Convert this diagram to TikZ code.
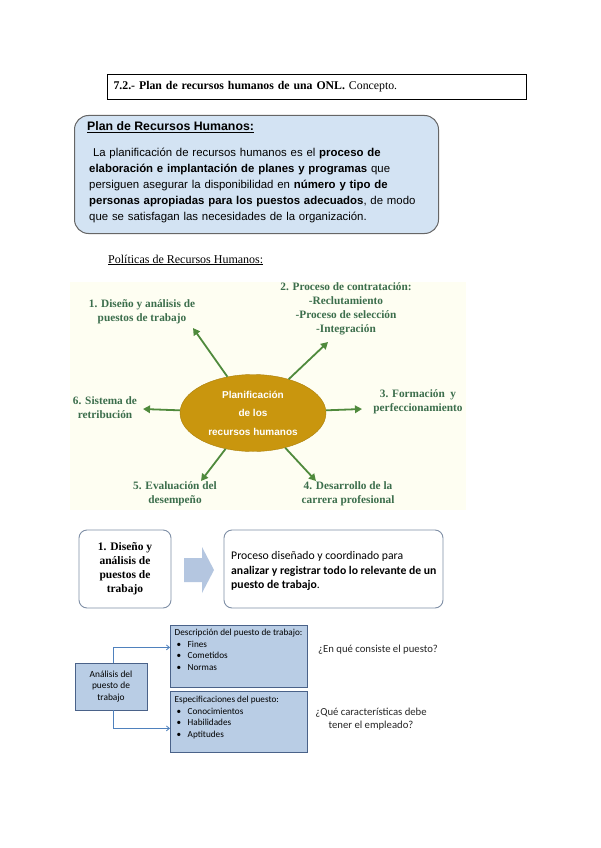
\documentclass[tikz,border=0pt]{standalone}
\usepackage{fontspec}
\setmainfont{Liberation Serif}
\setsansfont{Liberation Sans}
\newfontfamily\calibri{Carlito}
\usetikzlibrary{shapes.geometric,arrows.meta,positioning}

\definecolor{boxblue}{HTML}{D3E3F3}
\definecolor{goldfill}{HTML}{C9960E}
\definecolor{arrowgreen}{HTML}{4F8A3C}
\definecolor{labelgreen}{HTML}{3C6E4C}
\definecolor{creambg}{HTML}{FEFEF2}
\definecolor{chevronblue}{HTML}{B4C6E0}
\definecolor{cellblue}{HTML}{B9CDE5}
\definecolor{celledge}{HTML}{4A6289}
\definecolor{linkblue}{HTML}{4F81BD}
\definecolor{roundedge}{HTML}{7F8FA6}

\begin{document}
\begin{tikzpicture}[x=1pt, y=-1pt,
  policy/.style={text=labelgreen, font=\fontsize{11.3}{14}\selectfont\bfseries, align=center},
  spoke/.style={arrowgreen, line width=1.8pt, -{Triangle[length=7pt,width=7.5pt]}},
  roundbox/.style={draw=roundedge, line width=0.9pt, rounded corners=8pt, inner sep=0pt},
  cell/.style={draw=celledge, fill=cellblue, line width=0.8pt, inner sep=0pt},
  celltext/.style={font=\calibri\fontsize{9.2}{11.5}\selectfont, align=left, anchor=north west, inner sep=0pt},
  link/.style={linkblue, line width=0.8pt, -{Straight Barb[length=3pt,width=5pt]}}]
\useasboundingbox (0,0) rectangle (600,848);
\fill[white] (0,0) rectangle (600,848);

% title
\node[draw, line width=1pt, anchor=north west, minimum width=419pt, minimum height=25pt,
  text width=407pt, inner xsep=6pt, align=left, font=\fontsize{11.8}{13}\selectfont]
  (title) at (107,74) {\textbf{7.2.- Plan de recursos humanos de una ONL.} Concepto.};

% concepto
\node[draw=black!60, line width=1pt, fill=boxblue, rounded corners=14pt, anchor=north west,
  minimum width=364pt, minimum height=118pt] (concept) at (74,115) {};
\node[anchor=base west, inner sep=0pt, font=\sffamily\bfseries\fontsize{12.3}{14}\selectfont]
  (concepthead) at (87,131) {\underline{Plan de Recursos Humanos:}};
\node[anchor=north west, inner sep=0pt, text width=345pt, align=left,
  font=\sffamily\fontsize{11.4}{16}\selectfont] (conceptbody) at (89,148)
  {\ La planificación de recursos humanos es el \textbf{proceso de}\\
   \textbf{elaboración e implantación de planes y programas} que\\
   persiguen asegurar la disponibilidad en \textbf{número y tipo de}\\
   \textbf{personas apropiadas para los puestos adecuados}, de modo\\
   que se satisfagan las necesidades de la organización.};

% politicas
\node[anchor=base west, inner sep=0pt, font=\fontsize{12}{14}\selectfont]
  (polhead) at (108,263) {\underline{Políticas de Recursos Humanos:}};
\fill[creambg] (70,282) rectangle (466,510);

\node[ellipse, fill=goldfill, draw=goldfill!85!black, minimum width=146pt, minimum height=77pt,
  inner sep=0pt, text=white, align=center, font=\sffamily\bfseries\fontsize{10}{18.5}\selectfont]
  (plan) at (253,413) {Planificación\\de los\\recursos humanos};

\coordinate (a1) at (193,328);
\coordinate (a2) at (328,342);
\coordinate (a3) at (362,409);
\coordinate (a4) at (316,481);
\coordinate (a5) at (201,481);
\coordinate (a6) at (143,409);
\foreach \i in {1,...,6} \draw[spoke] (plan) -- (a\i);

\node[policy] (pol1) at (142,312) {1. Diseño y análisis de\\puestos de trabajo};
\node[policy] (pol2) at (346,309) {2. Proceso de contratación:\\-Reclutamiento\\-Proceso de selección\\-Integración};
\node[policy] (pol3) at (418,402) {3. Formación\ \ y\\perfeccionamiento};
\node[policy] (pol4) at (348,494) {4. Desarrollo de la\\carrera profesional};
\node[policy] (pol5) at (175,494) {5. Evaluación del\\desempeño};
\node[policy] (pol6) at (105,408) {6. Sistema de\\retribución};

% diseño y analisis
\node[roundbox, minimum width=92pt, minimum height=78pt, align=center,
  font=\bfseries\fontsize{11.5}{14}\selectfont] (rowtitle) at (125,569)
  {1. Diseño y\\análisis de\\puestos de\\trabajo};
\fill[chevronblue] (184,558) -- (202,558) -- (202,547) -- (214,570) -- (202,593) -- (202,582) -- (184,582) -- cycle;
\node[roundbox, minimum width=219pt, minimum height=78pt] (rowdesc) at (333.5,569) {};
\node[anchor=west, inner sep=0pt, align=left, font=\calibri\fontsize{11.7}{14.5}\selectfont]
  (rowdesctext) at (231,571)
  {Proceso diseñado y coordinado para\\
   \textbf{analizar y registrar todo lo relevante de un}\\
   \textbf{puesto de trabajo}.};

% analisis del puesto
\node[cell, minimum width=72pt, minimum height=47pt, align=center,
  font=\calibri\fontsize{9.4}{11.5}\selectfont] (analisis) at (111,686.5)
  {Análisis del\\puesto de\\trabajo};
\node[cell, anchor=north west, minimum width=137pt, minimum height=62pt] (desc) at (170,625) {};
\node[cell, anchor=north west, minimum width=137pt, minimum height=61pt] (spec) at (170,691) {};
\node[celltext] (desctext) at (174.5,629)
  {Descripción del puesto de trabajo:\\
   \makebox[13pt][l]{\hspace{2pt}•}Fines\\
   \makebox[13pt][l]{\hspace{2pt}•}Cometidos\\
   \makebox[13pt][l]{\hspace{2pt}•}Normas};
\node[celltext] (spectext) at (174.5,696)
  {Especificaciones del puesto:\\
   \makebox[13pt][l]{\hspace{2pt}•}Conocimientos\\
   \makebox[13pt][l]{\hspace{2pt}•}Habilidades\\
   \makebox[13pt][l]{\hspace{2pt}•}Aptitudes};
\draw[link] ([xshift=2pt]analisis.north) |- ([yshift=9pt]desc.west);
\draw[link] ([xshift=2pt]analisis.south) |- ([yshift=-6.5pt]spec.west);

\node[anchor=base west, inner sep=0pt, text=black!85, font=\calibri\fontsize{10.7}{13}\selectfont]
  (quest1) at (318,652) {¿En qué consiste el puesto?};
\node[align=center, inner sep=0pt, text=black!85, font=\calibri\fontsize{10.7}{13}\selectfont]
  (quest2) at (371,719) {¿Qué características debe\\tener el empleado?};
\end{tikzpicture}
\end{document}
